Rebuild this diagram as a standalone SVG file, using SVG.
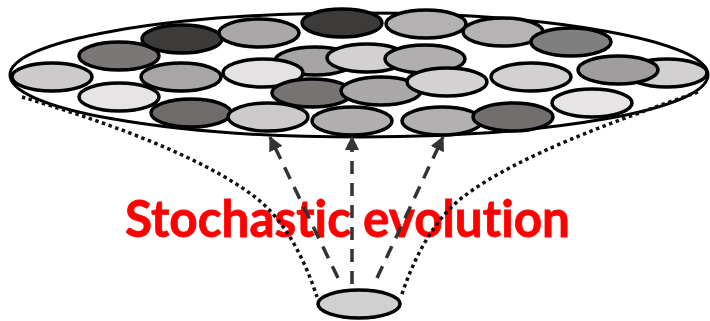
<svg xmlns="http://www.w3.org/2000/svg" width="710" height="321" viewBox="0 0 710 321">
<style>
.cell{stroke:#000;stroke-width:3.5}
.dot{fill:none;stroke:#111;stroke-width:3.5;stroke-dasharray:3.5 3.5}
.arr{fill:none;stroke:#333;stroke-width:3.5;stroke-dasharray:13 9}
.lbl{font-family:Lato,"Liberation Sans",sans-serif;font-weight:700;font-size:51px;fill:#ff0000;font-variant-ligatures:none;font-feature-settings:"liga" 0,"clig" 0}
</style>
<defs>
<marker id="ah" viewBox="0 0 12 12" refX="11" refY="6" markerWidth="4.2" markerHeight="4.2" markerUnits="strokeWidth" orient="auto">
<path d="M0,0 L12,6 L0,12 Z" fill="#333"/>
</marker>
</defs>
<rect width="710" height="321" fill="#fff"/>
<g id="label"><text class="lbl" x="125" y="237" textLength="445" lengthAdjust="spacingAndGlyphs" stroke="#ff0000" stroke-width="0.8">Stochastic evolution</text></g>
<g id="population">
<ellipse cx="359" cy="75" rx="349" ry="62" fill="#fff" stroke="#000" stroke-width="3"/>
<ellipse class="cell" cx="52" cy="77" rx="40" ry="14" fill="#cccaca"/>
<ellipse class="cell" cx="119" cy="56" rx="40" ry="14" fill="#7b7777"/>
<ellipse class="cell" cx="119" cy="97" rx="40" ry="14" fill="#e6e4e4"/>
<ellipse class="cell" cx="182" cy="39" rx="40" ry="14" fill="#3d3a3a"/>
<ellipse class="cell" cx="259" cy="33" rx="40" ry="14" fill="#a9a7a7"/>
<ellipse class="cell" cx="342" cy="23" rx="40" ry="14" fill="#3d3a3a"/>
<ellipse class="cell" cx="426" cy="24" rx="40" ry="14" fill="#b3b1b1"/>
<ellipse class="cell" cx="503" cy="32" rx="40" ry="14" fill="#b5b3b3"/>
<ellipse class="cell" cx="571" cy="42" rx="40" ry="14" fill="#807f7f"/>
<ellipse class="cell" cx="181" cy="77" rx="40" ry="14" fill="#a7a5a5"/>
<ellipse class="cell" cx="315" cy="61" rx="40" ry="14" fill="#a6a4a4"/>
<ellipse class="cell" cx="263" cy="73" rx="40" ry="14" fill="#e4e2e2"/>
<ellipse class="cell" cx="367" cy="58" rx="40" ry="14" fill="#d2d0d0"/>
<ellipse class="cell" cx="425" cy="59" rx="40" ry="14" fill="#b0aeae"/>
<ellipse class="cell" cx="312" cy="93" rx="40" ry="14" fill="#777373"/>
<ellipse class="cell" cx="381" cy="91" rx="40" ry="14" fill="#aaa8a8"/>
<ellipse class="cell" cx="447" cy="82" rx="40" ry="14" fill="#d4d2d2"/>
<ellipse class="cell" cx="531" cy="77" rx="40" ry="14" fill="#d2d0d0"/>
<ellipse class="cell" cx="667" cy="73" rx="40" ry="14" fill="#d2d0d0"/>
<ellipse class="cell" cx="618" cy="70" rx="40" ry="14" fill="#9f9d9d"/>
<ellipse class="cell" cx="191" cy="113" rx="40" ry="14" fill="#6f6b6b"/>
<ellipse class="cell" cx="268" cy="117" rx="40" ry="14" fill="#cccaca"/>
<ellipse class="cell" cx="352" cy="121" rx="40" ry="14" fill="#b1afaf"/>
<ellipse class="cell" cx="442" cy="121" rx="40" ry="14" fill="#b2b0b0"/>
<ellipse class="cell" cx="513" cy="117" rx="40" ry="14" fill="#726e6e"/>
<ellipse class="cell" cx="592" cy="103" rx="40" ry="14" fill="#e6e4e4"/>
</g>
<g id="origin">
<ellipse class="cell" cx="359" cy="304" rx="41" ry="14" fill="#d0d0d0"/>
</g>
<g id="connectors">
<path class="dot" d="M22,97 C100,120 200,155 255,197 C285,220 305,260 317,297"/>
<path class="dot" d="M698,92 C618,120 518,155 463,197 C433,220 413,260 401,297"/>
<path class="arr" d="M338,278 L270,137" marker-end="url(#ah)"/>
<path class="arr" d="M352,284 L352,137" marker-end="url(#ah)"/>
<path class="arr" d="M377,278 L443,137" marker-end="url(#ah)"/>
</g>
</svg>
